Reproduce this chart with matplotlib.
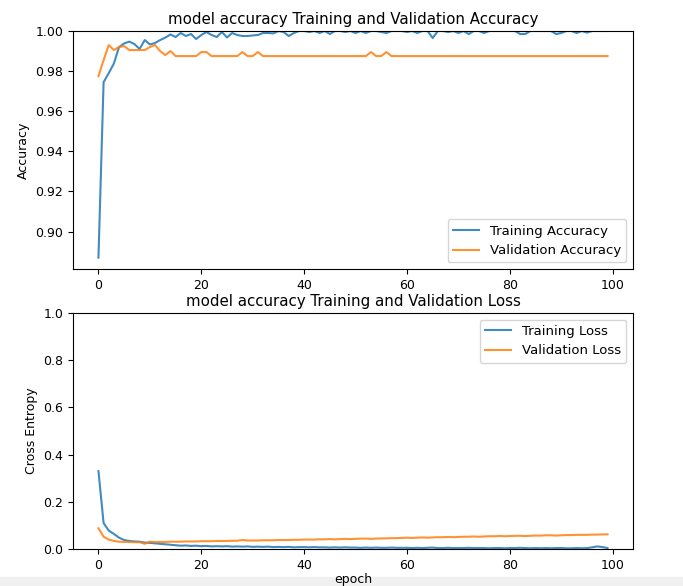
import numpy as np
import matplotlib.pyplot as plt
from matplotlib.patches import Rectangle

# data
epochs = list(range(100))

train_acc = [0.887, 0.9745, 0.979, 0.9838, 0.992, 0.9938, 0.9947, 0.9935, 0.991, 0.9955,
             0.9933, 0.994, 0.9955, 0.9967, 0.9983, 0.997, 0.999, 0.9975, 0.9985, 0.996,
             0.998, 0.9995, 0.998, 0.997, 0.9995, 0.9968, 0.999, 0.998, 0.9975, 0.9975,
             0.9978, 0.998, 0.999, 0.999, 0.9988, 1.0, 0.9995, 0.9975, 0.999, 1.0,
             1.0, 0.9995, 1.0, 0.999, 1.0, 0.9985, 1.0, 1.0, 0.9995, 1.0,
             0.999, 1.0, 0.999, 1.0, 1.0, 0.9995, 0.999, 1.0, 1.0, 1.0,
             0.9995, 1.0, 0.999, 1.0, 1.0, 0.9965, 1.0, 1.0, 0.9995, 1.0,
             0.999, 1.0, 0.9985, 1.0, 1.0, 0.999, 1.0, 1.0, 1.0, 1.0,
             1.0, 1.0, 0.9985, 0.9985, 1.0, 1.0, 1.0, 1.0, 1.0, 0.9985,
             0.999, 1.0, 1.0, 0.999, 1.0, 0.9992, 1.0, 1.0, 1.0, 1.0]

val_acc = [0.9775, 0.9855, 0.993, 0.9905, 0.992, 0.9925, 0.9905, 0.9905, 0.9905, 0.9905,
           0.992, 0.993, 0.990, 0.988, 0.990, 0.9875, 0.9875, 0.9875, 0.9875, 0.9875,
           0.9895, 0.9895, 0.9875, 0.9875, 0.9875, 0.9875, 0.9875, 0.9875, 0.9895, 0.9875,
           0.9875, 0.9895, 0.9875, 0.9875, 0.9875, 0.9875, 0.9875, 0.9875, 0.9875, 0.9875,
           0.9875, 0.9875, 0.9875, 0.9875, 0.9875, 0.9875, 0.9875, 0.9875, 0.9875, 0.9875,
           0.9875, 0.9875, 0.9875, 0.9895, 0.9875, 0.9875, 0.9895, 0.9875, 0.9875, 0.9875,
           0.9875, 0.9875, 0.9875, 0.9875, 0.9875, 0.9875, 0.9875, 0.9875, 0.9875, 0.9875,
           0.9875, 0.9875, 0.9875, 0.9875, 0.9875, 0.9875, 0.9875, 0.9875, 0.9875, 0.9875,
           0.9875, 0.9875, 0.9875, 0.9875, 0.9875, 0.9875, 0.9875, 0.9875, 0.9875, 0.9875,
           0.9875, 0.9875, 0.9875, 0.9875, 0.9875, 0.9875, 0.9875, 0.9875, 0.9875, 0.9875]

train_loss = [0.33, 0.11, 0.078, 0.064, 0.048, 0.038, 0.034, 0.032, 0.031, 0.027,
              0.026, 0.024, 0.022, 0.020, 0.018, 0.016, 0.014, 0.015, 0.013, 0.014,
              0.012, 0.013, 0.011, 0.012, 0.011, 0.012, 0.010, 0.011, 0.010, 0.011,
              0.009, 0.010, 0.009, 0.010, 0.008, 0.009, 0.008, 0.009, 0.007, 0.008,
              0.008, 0.007, 0.008, 0.007, 0.007, 0.006, 0.007, 0.006, 0.007, 0.006,
              0.006, 0.005, 0.006, 0.005, 0.006, 0.005, 0.005, 0.006, 0.005, 0.005,
              0.005, 0.004, 0.005, 0.004, 0.005, 0.006, 0.004, 0.004, 0.005, 0.004,
              0.004, 0.004, 0.005, 0.004, 0.004, 0.004, 0.003, 0.004, 0.004, 0.003,
              0.004, 0.004, 0.005, 0.004, 0.003, 0.004, 0.003, 0.004, 0.003, 0.004,
              0.004, 0.003, 0.003, 0.004, 0.003, 0.004, 0.007, 0.011, 0.008, 0.004]

val_loss = [0.088, 0.052, 0.040, 0.034, 0.031, 0.030, 0.030, 0.029, 0.029, 0.022,
            0.031, 0.029, 0.030, 0.030, 0.031, 0.031, 0.031, 0.032, 0.032, 0.032,
            0.033, 0.033, 0.033, 0.034, 0.034, 0.034, 0.035, 0.035, 0.038, 0.036,
            0.036, 0.036, 0.037, 0.037, 0.037, 0.038, 0.038, 0.038, 0.039, 0.039,
            0.040, 0.040, 0.040, 0.041, 0.041, 0.042, 0.041, 0.042, 0.043, 0.042,
            0.043, 0.044, 0.044, 0.043, 0.044, 0.045, 0.045, 0.046, 0.046, 0.047,
            0.048, 0.047, 0.048, 0.049, 0.048, 0.049, 0.050, 0.050, 0.051, 0.050,
            0.051, 0.052, 0.052, 0.053, 0.052, 0.053, 0.054, 0.054, 0.055, 0.054,
            0.055, 0.056, 0.056, 0.055, 0.056, 0.057, 0.057, 0.058, 0.058, 0.057,
            0.058, 0.059, 0.059, 0.060, 0.060, 0.060, 0.061, 0.061, 0.062, 0.062]

fig = plt.figure(figsize=(6.83, 5.86), dpi=100)

# top: accuracy
ax1 = fig.add_axes([73/683, 1 - 269/586, 560/683, 238/586])
ax1.plot(epochs, train_acc, label='Training Accuracy', alpha=0.85)
ax1.plot(epochs, val_acc, label='Validation Accuracy', alpha=0.85)
ax1.legend(loc='lower right', fontsize=9.5)
ax1.set_ylabel('Accuracy', fontsize=9)
ax1.set_ylim([min(ax1.get_ylim()), 1])
ax1.set_title('model accuracy Training and Validation Accuracy', fontsize=10.8, pad=5)
ax1.tick_params(labelsize=9)

# bottom: loss
ax2 = fig.add_axes([73/683, 1 - 549/586, 560/683, 236/586])
ax2.plot(epochs, train_loss, label='Training Loss', alpha=0.85)
ax2.plot(epochs, val_loss, label='Validation Loss', alpha=0.85)
ax2.legend(loc='upper right', fontsize=9.5)
ax2.set_ylabel('Cross Entropy', fontsize=9)
ax2.set_ylim([0, 1.0])
ax2.set_title('model accuracy Training and Validation Loss', fontsize=10.8, pad=5)
ax2.set_xlabel('epoch', fontsize=9, labelpad=1)
ax2.tick_params(labelsize=9)

# grey strip at the bottom of the screenshot
fig.patches.append(Rectangle((0, 0), 1, 9/586, transform=fig.transFigure,
                             color='#f0f0f0', zorder=-1))

fig.savefig('out.png', dpi=100)
